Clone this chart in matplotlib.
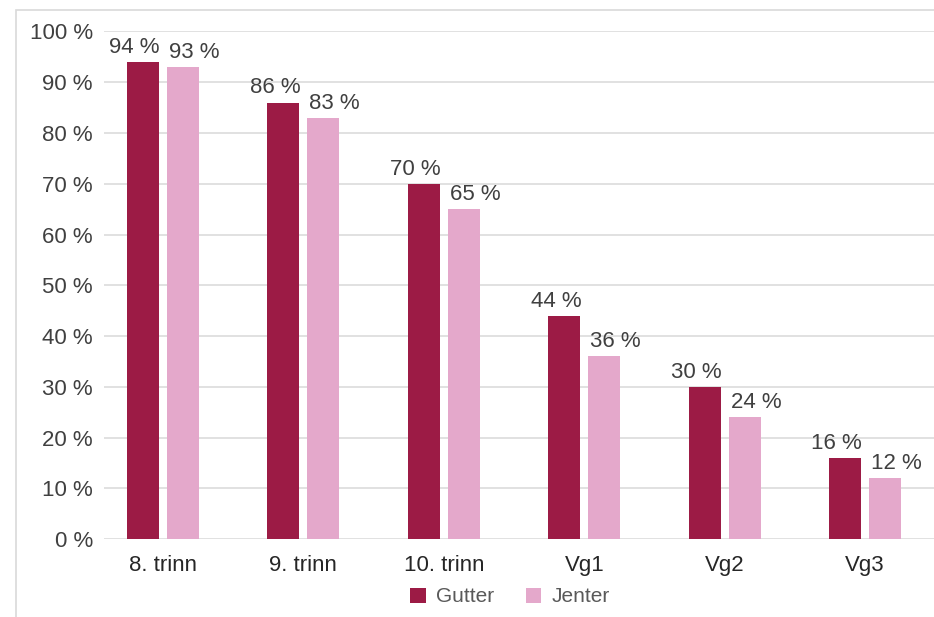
import matplotlib.pyplot as plt
from matplotlib.patches import Rectangle
import numpy as np

plt.rcParams['font.family'] = ['Liberation Sans', 'DejaVu Sans']

kategorier = ['8. trinn', '9. trinn', '10. trinn', 'Vg1', 'Vg2', 'Vg3']
gutter = [94, 86, 70, 44, 30, 16]
jenter = [93, 83, 65, 36, 24, 12]

farge_gutter = '#9C1B45'
farge_jenter = '#E4A8CB'

fig = plt.figure(figsize=(9.34, 6.17), dpi=100)
ax = fig.add_axes([0.1113, 0.126, 0.8887, 0.823])

# ramme rundt hele diagrammet
fig.patches.append(Rectangle((16 / 934, -0.1), 1.2, 1 - 10 / 617 + 0.1,
                             transform=fig.transFigure, fill=False,
                             edgecolor='#D9D9D9', linewidth=1.2))

x = np.arange(len(kategorier))
b = 0.228
d = 0.1425
s1 = ax.bar(x - d, gutter, b, color=farge_gutter, label='Gutter', zorder=3)
s2 = ax.bar(x + d, jenter, b, color=farge_jenter, label='Jenter', zorder=3)

# etikettene flyttes litt til sidene, som i Excel
for serie, verdier, dx in ((s1, gutter, -6), (s2, jenter, 8)):
    for rekt, v in zip(serie, verdier):
        ax.annotate(f'{v} %', (rekt.get_x() + rekt.get_width() / 2, v),
                    xytext=(dx, 3), textcoords='offset points',
                    ha='center', va='bottom', fontsize=16, color='#404040')

ax.set_ylim(0, 100)
ax.set_xlim(-0.42, 5.49)
ax.set_yticks(range(0, 101, 10))
ax.set_yticklabels([f'{t} %' for t in range(0, 101, 10)])
ax.set_xticks(x)
ax.set_xticklabels(kategorier)
ax.tick_params(axis='y', length=0, pad=8, labelsize=16, labelcolor='#404040')
ax.tick_params(axis='x', length=0, pad=11, labelsize=16, labelcolor='#262626')
ax.grid(axis='y', color='#D9D9D9', linewidth=1.1, zorder=0)
for side in ax.spines.values():
    side.set_visible(False)

leg = fig.legend(loc='center', bbox_to_anchor=(510 / 934, 1 - 597 / 617), ncol=2,
                 frameon=False, fontsize=15, handlelength=0.75, handleheight=0.75,
                 handletextpad=0.5, columnspacing=1.5)
for t in leg.get_texts():
    t.set_color('#595959')

fig.savefig('out.png', dpi=100)
